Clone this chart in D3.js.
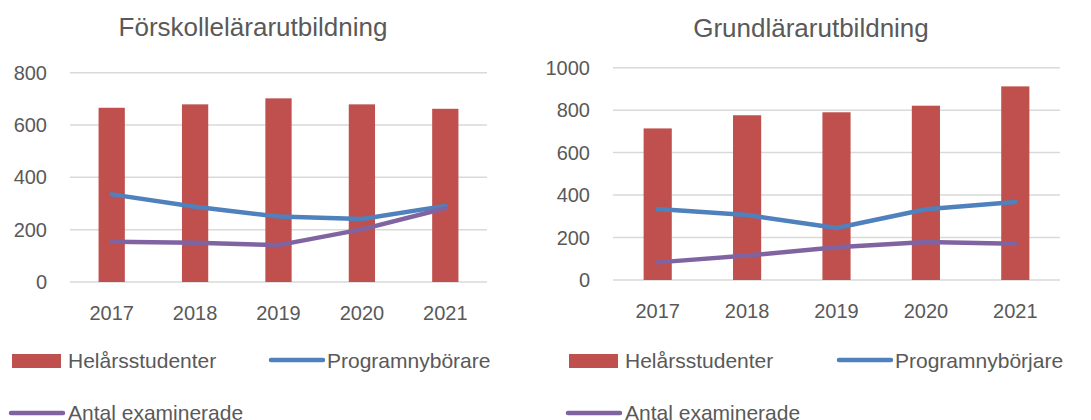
<!DOCTYPE html>
<html>
<head>
<meta charset="utf-8">
<script src="https://cdnjs.cloudflare.com/ajax/libs/d3/7.8.5/d3.min.js"></script>
<style>
  body { margin: 0; background: #fff; }
  svg text { font-family: "Liberation Sans", Arial, sans-serif; fill: #595959; }
</style>
</head>
<body>
<div id="chart"></div>
<script>
// data
var years = ["2017", "2018", "2019", "2020", "2021"];

var forskolaTitle = "Förskollelärarutbildning";
var forskolaHelar = [666, 679, 702, 679, 662];
var forskolaProgram = [335, 288, 250, 241, 291];
var forskolaExamen = [154, 150, 141, 201, 282];
var forskolaTicks = [0, 200, 400, 600, 800];

var grundTitle = "Grundlärarutbildning";
var grundHelar = [714, 776, 790, 821, 912];
var grundProgram = [334, 306, 245, 333, 367];
var grundExamen = [83, 115, 154, 179, 171];
var grundTicks = [0, 200, 400, 600, 800, 1000];

var legendNames = ["Helårsstudenter", "Programnybörare", "Antal examinerade"];
var legendNames2 = ["Helårsstudenter", "Programnybörjare", "Antal examinerade"];

var red = "#C0504D", blue = "#4F81BD", purple = "#8064A2";

var svg = d3.select("#chart").append("svg")
  .attr("width", 1091)
  .attr("height", 420);

function drawPanel(o) {
  var g = svg.append("g");
  var x = d3.scaleBand().domain(years).range([o.x0, o.x1]).paddingInner(0).paddingOuter(0);
  var y = d3.scaleLinear().domain([0, o.max]).range([o.y0, o.y1]);
  var bw = x.bandwidth() * 0.315;
  var cx = function(d) { return x(d) + x.bandwidth() / 2; };

  // title
  g.append("text")
    .attr("x", o.titleX).attr("y", o.titleY)
    .attr("text-anchor", "middle")
    .style("font-size", "26px")
    .text(o.title);

  // gridlines
  g.selectAll(".grid").data(o.ticks).enter().append("line")
    .attr("x1", o.x0).attr("x2", o.x1)
    .attr("y1", function(d) { return y(d); })
    .attr("y2", function(d) { return y(d); })
    .attr("stroke", "#D9D9D9").attr("stroke-width", 1.5);

  // y labels
  g.selectAll(".ylab").data(o.ticks).enter().append("text")
    .attr("x", o.labelX)
    .attr("y", function(d) { return y(d) + 7; })
    .attr("text-anchor", "end")
    .style("font-size", "20px")
    .text(function(d) { return d; });

  // x labels
  g.selectAll(".xlab").data(years).enter().append("text")
    .attr("x", cx)
    .attr("y", o.y0 + 38)
    .attr("text-anchor", "middle")
    .style("font-size", "20px")
    .text(function(d) { return d; });

  // bars
  g.selectAll(".bar").data(o.bars).enter().append("rect")
    .attr("x", function(d, i) { return cx(years[i]) - bw / 2; })
    .attr("y", function(d) { return y(d); })
    .attr("width", bw)
    .attr("height", function(d) { return y(0) - y(d); })
    .attr("fill", red);

  var line = d3.line()
    .x(function(d, i) { return cx(years[i]); })
    .y(function(d) { return y(d); });

  g.append("path").datum(o.prog).attr("d", line)
    .attr("fill", "none").attr("stroke", blue).attr("stroke-width", 4.5)
    .attr("stroke-linecap", "round").attr("stroke-linejoin", "round");
  g.append("path").datum(o.exam).attr("d", line)
    .attr("fill", "none").attr("stroke", purple).attr("stroke-width", 4.5)
    .attr("stroke-linecap", "round").attr("stroke-linejoin", "round");

  // legend
  var L = o.legend;
  g.append("rect").attr("x", L.rx).attr("y", 354).attr("width", 49).attr("height", 14).attr("fill", red);
  g.append("text").attr("x", L.rx + 56).attr("y", 368).style("font-size", "21px").text(o.names[0]);
  g.append("line").attr("x1", L.bx).attr("x2", L.bx + 52).attr("y1", 360).attr("y2", 360)
    .attr("stroke", blue).attr("stroke-width", 4.5).attr("stroke-linecap", "round");
  g.append("text").attr("x", L.bx + 56).attr("y", 368).style("font-size", "21px").text(o.names[1]);
  g.append("line").attr("x1", L.px).attr("x2", L.px + 52).attr("y1", 413).attr("y2", 413)
    .attr("stroke", purple).attr("stroke-width", 4.5).attr("stroke-linecap", "round");
  g.append("text").attr("x", L.px + 57).attr("y", 420).style("font-size", "21px").text(o.names[2]);
}

drawPanel({
  title: forskolaTitle, titleX: 253, titleY: 36,
  x0: 70, x1: 487, y0: 282, y1: 72.7, max: 800, labelX: 47,
  ticks: forskolaTicks, bars: forskolaHelar, prog: forskolaProgram, exam: forskolaExamen,
  names: legendNames, legend: { rx: 12, bx: 271, px: 11 }
});

drawPanel({
  title: grundTitle, titleX: 811, titleY: 37,
  x0: 613, x1: 1060, y0: 280, y1: 67.7, max: 1000, labelX: 590,
  ticks: grundTicks, bars: grundHelar, prog: grundProgram, exam: grundExamen,
  names: legendNames2, legend: { rx: 569, bx: 839, px: 568 }
});
</script>
</body>
</html>
